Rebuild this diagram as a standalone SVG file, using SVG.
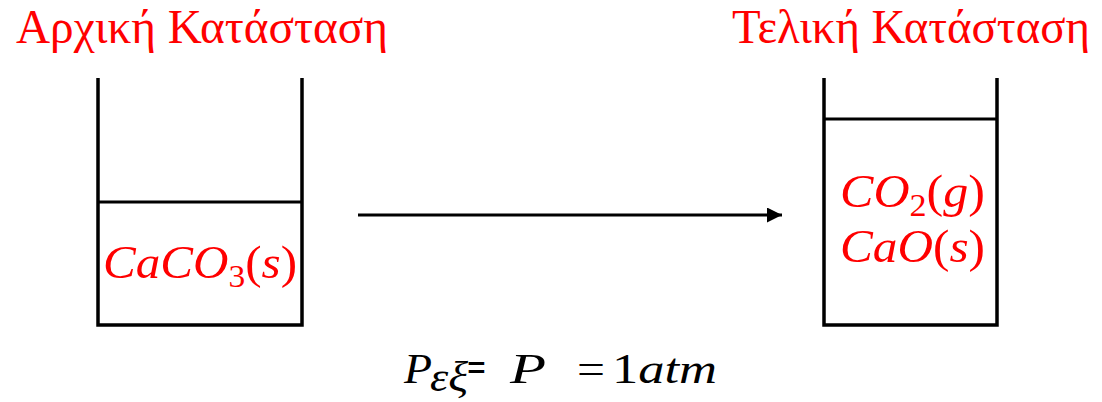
<svg xmlns="http://www.w3.org/2000/svg" width="1102" height="402" viewBox="0 0 1102 402">
<style>
.title{font-family:"Liberation Serif","Times New Roman",serif;font-size:48px;fill:#ff0000}
.math{font-family:"Liberation Serif","Times New Roman",serif;font-style:italic;font-size:47px;fill:#ff0000}
.eq{font-family:"Liberation Serif","Times New Roman",serif;font-size:42px;fill:#000}
.wall{fill:none;stroke:#000;stroke-width:3.5;stroke-linejoin:miter}
.level{stroke:#000;stroke-width:3}
</style>
<defs>
<marker id="ah" viewBox="0 0 10 10" refX="10" refY="5" markerWidth="5" markerHeight="5" orient="auto" markerUnits="strokeWidth">
<path d="M0,0 L10,5 L0,10 z" fill="#000"/>
</marker>
</defs>
<rect width="1102" height="402" fill="#fff"/>
<g id="title-initial"><text class="title" x="16" y="43" textLength="372" lengthAdjust="spacingAndGlyphs">Αρχική Κατάσταση</text></g>
<g id="title-final"><text class="title" x="732" y="43" textLength="358" lengthAdjust="spacingAndGlyphs">Τελική Κατάσταση</text></g>
<g id="beaker-initial">
<path class="wall" d="M98,78 V325 H302 V78"/>
<line class="level" x1="98" y1="202" x2="302" y2="202"/>
<text class="math" x="103" y="278" textLength="194" lengthAdjust="spacingAndGlyphs">CaCO<tspan font-style="normal" font-size="32" dy="9">3</tspan><tspan font-style="normal" dy="-9">(</tspan>s<tspan font-style="normal">)</tspan></text>
</g>
<g id="beaker-final">
<path class="wall" d="M824,78 V325 H997 V78"/>
<line class="level" x1="824" y1="119" x2="997" y2="119"/>
<text class="math" x="840" y="207" textLength="145" lengthAdjust="spacingAndGlyphs">CO<tspan font-style="normal" font-size="32" dy="9">2</tspan><tspan font-style="normal" dy="-9">(</tspan>g<tspan font-style="normal">)</tspan></text>
<text class="math" x="840" y="262" textLength="145" lengthAdjust="spacingAndGlyphs">CaO<tspan font-style="normal">(</tspan>s<tspan font-style="normal">)</tspan></text>
</g>
<g id="connectors">
<line x1="358" y1="215" x2="782" y2="215" stroke="#000" stroke-width="3" marker-end="url(#ah)"/>
</g>
<g id="condition">
<text class="eq" x="404" y="383" font-style="italic" textLength="28" lengthAdjust="spacingAndGlyphs">P</text>
<text class="eq" x="430" y="391" font-style="italic" font-size="30" textLength="38" lengthAdjust="spacingAndGlyphs">εξ</text>
<text class="eq" x="467" y="381" font-family="Liberation Sans, Arial, sans-serif" font-weight="bold" font-size="34" textLength="19" lengthAdjust="spacingAndGlyphs">=</text>
<text class="eq" x="510" y="383" font-style="italic" textLength="36" lengthAdjust="spacingAndGlyphs">P</text>
<text class="eq" x="577" y="383" textLength="28" lengthAdjust="spacingAndGlyphs">=</text>
<text class="eq" x="612" y="383" textLength="105" lengthAdjust="spacingAndGlyphs">1<tspan font-style="italic">atm</tspan></text>
</g>
</svg>
